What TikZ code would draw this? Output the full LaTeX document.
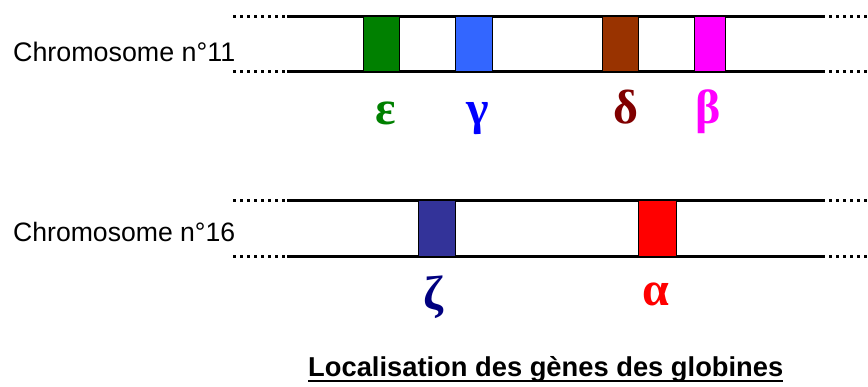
\documentclass[tikz,border=0pt]{standalone}
\usepackage{fontspec}
\setmainfont{Liberation Sans}
\newfontfamily\greekfont{Liberation Serif}
\definecolor{gEps}{RGB}{0,128,0}
\definecolor{gGamBox}{RGB}{51,102,255}
\definecolor{gGam}{RGB}{0,0,255}
\definecolor{gDelBox}{RGB}{153,51,0}
\definecolor{gDel}{RGB}{128,0,0}
\definecolor{gBet}{RGB}{255,0,255}
\definecolor{gZetBox}{RGB}{51,51,153}
\definecolor{gZet}{RGB}{0,0,128}
\definecolor{gAlp}{RGB}{255,0,0}
\tikzset{
  strand/.style={line width=3pt, black},
  strandend/.style={line width=3pt, black, dash pattern=on 3pt off 4pt},
  genebox/.style={draw=black, line width=1pt},
  genelabel/.style={inner sep=0pt, anchor=center, font=\greekfont\bfseries\fontsize{48}{48}\selectfont},
  chrlabel/.style={inner sep=0pt, anchor=base west},
}
\begin{document}
\begin{tikzpicture}[x=1pt, y=-1pt]
\useasboundingbox (0,0) rectangle (868,387);

% chromosome 11
\foreach \yy in {17,72}{
  \draw[strandend] (233,\yy) -- (286,\yy);
  \draw[strand] (287,\yy) -- (825,\yy);
  \draw[strandend] (829,\yy) -- (868,\yy);
}
\filldraw[genebox, fill=gEps] (363,17) rectangle (399,72);
\filldraw[genebox, fill=gGamBox] (455,17) rectangle (492,72);
\filldraw[genebox, fill=gDelBox] (602,17) rectangle (638,72);
\filldraw[genebox, fill=gBet] (694,17) rectangle (725,72);
\node[chrlabel] (c11) at (13,62) {\resizebox{222pt}{!}{Chromosome n°11}};

\node[genelabel, text=gEps] (eps) at (386,113) {ε};
\node[genelabel, text=gGam] (gam) at (478,119) {γ};
\node[genelabel, text=gDel] (del) at (626,107) {δ};
\node[genelabel, text=gBet] (bet) at (708,112) {β};

% chromosome 16
\foreach \yy in {201,257}{
  \draw[strandend] (233,\yy) -- (286,\yy);
  \draw[strand] (287,\yy) -- (825,\yy);
  \draw[strandend] (829,\yy) -- (868,\yy);
}
\filldraw[genebox, fill=gZetBox] (418,201) rectangle (455,257);
\filldraw[genebox, fill=gAlp] (638,201) rectangle (676,257);
\node[chrlabel] (c16) at (13,242) {\resizebox{222pt}{!}{Chromosome n°16}};

\node[genelabel, text=gZet] (zet) at (433,297) {ζ};
\node[genelabel, text=gAlp] (alp) at (656,294) {α};

% caption
\node[chrlabel] (title) at (308,377) {\resizebox{475pt}{!}{\bfseries Localisation des gènes des globines}};
\draw[line width=2pt] (308,381.5) -- (783,381.5);
\end{tikzpicture}
\end{document}
